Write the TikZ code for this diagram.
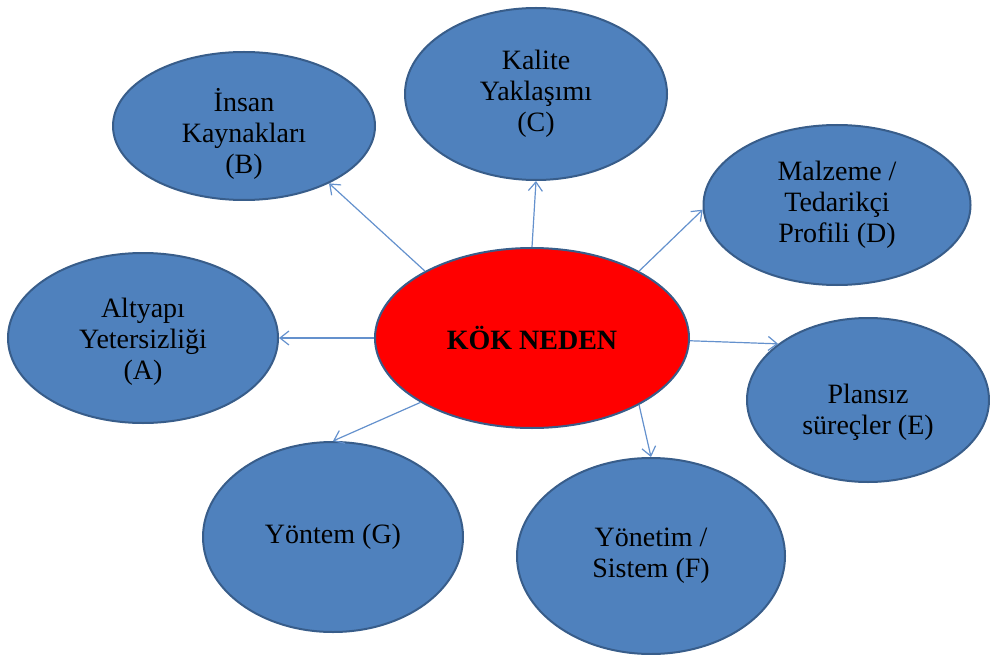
\documentclass[tikz,border=0pt]{standalone}
\usepackage{fontspec}
\setmainfont{Liberation Serif}
\usetikzlibrary{shapes.geometric,arrows.meta}
\definecolor{bubblefill}{RGB}{79,129,189}
\definecolor{rim}{RGB}{56,93,138}
\definecolor{linkblue}{RGB}{100,145,205}
\begin{document}
\begin{tikzpicture}[x=1pt,y=-1pt,
  bubble/.style={ellipse, draw=rim, line width=2pt, fill=bubblefill, inner sep=0pt},
  caption/.style={align=center, inner sep=0pt, font=\fontsize{28}{31}\selectfont},
  core/.style={bubble, fill=red, font=\fontsize{28}{32}\selectfont\bfseries},
  link/.style={draw=linkblue, line width=1.2pt, -{Straight Barb[length=9pt,width=14pt]}}]
\useasboundingbox (0,0) rectangle (990,655);

% root cause in the middle
\node[core, minimum width=314pt, minimum height=180pt] (ctr) at (532,338) {KÖK NEDEN};

% surrounding causes, each caption set slightly below or at the centre
\node[bubble, minimum width=262pt, minimum height=148pt,
  label={[caption,yshift=-8pt]center:İnsan\\Kaynakları\\(B)}] (B) at (244,126) {};
\node[bubble, minimum width=262pt, minimum height=172pt,
  label={[caption]center:Kalite\\Yaklaşımı\\(C)}] (C) at (536,94) {};
\node[bubble, minimum width=267pt, minimum height=160pt,
  label={[caption]center:Malzeme /\\Tedarikçi\\Profili (D)}] (D) at (837,205) {};
\node[bubble, minimum width=270pt, minimum height=170pt,
  label={[caption,yshift=-4pt]center:Altyapı\\Yetersizliği\\(A)}] (A) at (143,338) {};
\node[bubble, minimum width=242pt, minimum height=164pt,
  label={[caption,yshift=-12pt]center:Plansız\\süreçler (E)}] (E) at (868,400) {};
\node[bubble, minimum width=268pt, minimum height=196pt,
  label={[caption]center:Yönetim /\\Sistem (F)}] (F) at (651,556) {};
\node[bubble, minimum width=260pt, minimum height=190pt,
  label={[caption]center:Yöntem (G)}] (G) at (333,537) {};

% connectors from the root cause outwards
\draw[link] (ctr.148) -- (B.-34);
\draw[link] (ctr.north) -- (C.south);
\draw[link] (ctr.32) -- (D.182);
\draw[link] (ctr.west) -- (A.east);
\draw[link] (ctr.-1) -- (E.148);
\draw[link] (ctr.-32) -- (F.north);
\draw[link] (ctr.210) -- (G.north);
\end{tikzpicture}
\end{document}
